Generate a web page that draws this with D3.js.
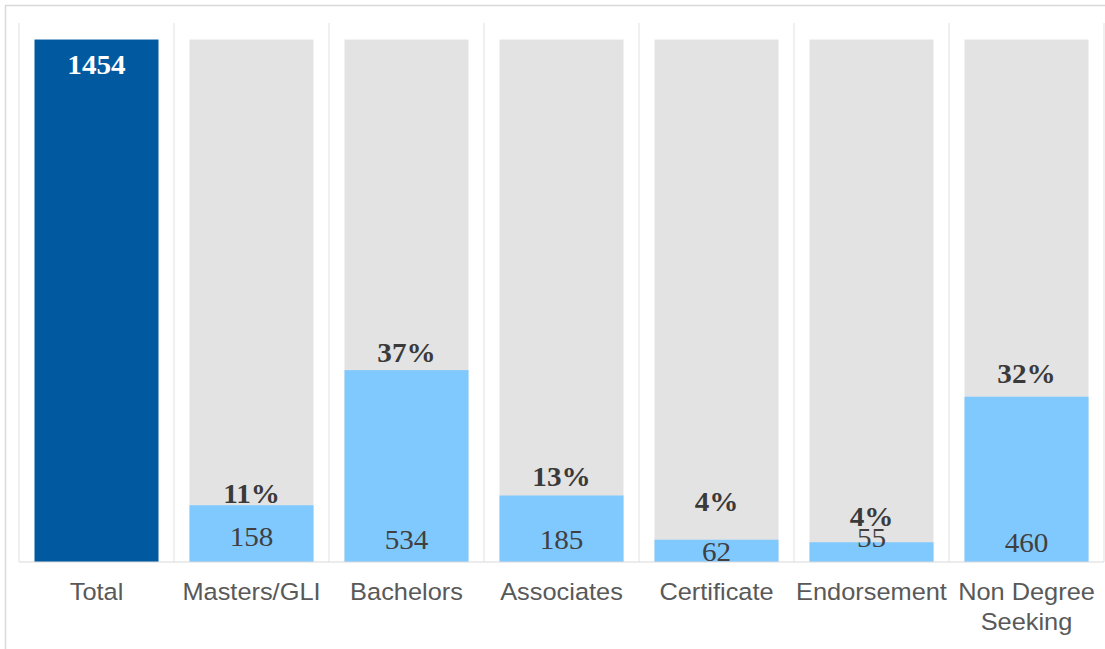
<!DOCTYPE html>
<html>
<head>
<meta charset="utf-8">
<script src="https://cdn.jsdelivr.net/npm/d3@7"></script>
<style>
  html, body { margin: 0; padding: 0; background: #ffffff; }
  svg { display: block; }
</style>
</head>
<body>
<svg id="chart" width="1105" height="649"></svg>
<script>
// ---- data ----
const categories = ["Total", "Masters/GLI", "Bachelors", "Associates", "Certificate", "Endorsement", "Non Degree Seeking"];
const totalValue = 1454;
const values = [1454, 158, 534, 185, 62, 55, 460];
const percentLabels = ["", "11%", "37%", "13%", "4%", "4%", "32%"];
const yMax = 1500;

// ---- layout tweaks (label nudges in px, not data) ----
const pctGap = [0, 2, 8, 10, 29, 16, 14];
const valBaselineOffset = [0, 16, 13, 13, 1, 15, 10];
const sx = 1.08; // horizontal stretch of text seen in the reference

const svg = d3.select("#chart");
const W = 1105, H = 649;
const plotLeft = 19, plotRight = 1104, plotTop = 23, plotBase = 562;

// frame
svg.append("path")
  .attr("d", `M5.5,${H + 2} V5.5 H${W + 2}`)
  .attr("fill", "none").attr("stroke", "#d9d9d9").attr("stroke-width", 1.5);

const x = d3.scaleBand().domain(categories).range([plotLeft, plotRight]).paddingInner(0.2).paddingOuter(0.1);
const y = d3.scaleLinear().domain([0, yMax]).range([plotBase, plotTop]);
const step = x.step();
const cx = c => x(c) + x.bandwidth() / 2;

// vertical gridlines at category boundaries
const bounds = categories.map(c => x(c) - step * x.paddingInner() / 2).concat([plotRight]);
svg.append("g").selectAll("line").data(bounds).join("line")
  .attr("x1", d => d).attr("x2", d => d)
  .attr("y1", y(yMax)).attr("y2", plotBase)
  .attr("stroke", "#e6e6e6").attr("stroke-width", 1.2);

// background gray bars
svg.append("g").selectAll("rect").data(categories.slice(1)).join("rect")
  .attr("x", d => x(d)).attr("width", x.bandwidth())
  .attr("y", y(totalValue)).attr("height", plotBase - y(totalValue))
  .attr("fill", "#e3e3e3");

// value bars
svg.append("g").selectAll("rect").data(categories).join("rect")
  .attr("x", d => x(d)).attr("width", x.bandwidth())
  .attr("y", (d, i) => y(values[i])).attr("height", (d, i) => plotBase - y(values[i]))
  .attr("fill", (d, i) => i === 0 ? "#01599f" : "#80c9fe");

// x axis line
svg.append("line").attr("x1", plotLeft).attr("x2", plotRight).attr("y1", plotBase).attr("y2", plotBase)
  .attr("stroke", "#d9d9d9").attr("stroke-width", 1.2);

const serif = "'Liberation Serif', 'Times New Roman', serif";

// total label
svg.append("text")
  .attr("transform", `translate(${cx(categories[0])},${y(values[0]) + 34}) scale(${sx},1)`)
  .attr("text-anchor", "middle")
  .attr("font-family", serif)
  .attr("font-size", 27).attr("font-weight", "bold").attr("fill", "#ffffff")
  .text(values[0]);

// value labels
svg.append("g").selectAll("text").data(categories.slice(1)).join("text")
  .attr("transform", (d, i) => `translate(${cx(d)},${plotBase - valBaselineOffset[i + 1]}) scale(${sx},1)`)
  .attr("text-anchor", "middle")
  .attr("font-family", serif)
  .attr("font-size", 27).attr("fill", "#404040")
  .text((d, i) => values[i + 1]);

// percent labels
svg.append("g").selectAll("text").data(categories.slice(1)).join("text")
  .attr("transform", (d, i) => `translate(${cx(d)},${y(values[i + 1]) - pctGap[i + 1]}) scale(${sx},1)`)
  .attr("text-anchor", "middle")
  .attr("font-family", serif)
  .attr("font-size", 27).attr("font-weight", "bold").attr("fill", "#3a3a3a")
  .text((d, i) => percentLabels[i + 1]);

// category axis labels
const axisG = svg.append("g")
  .attr("font-family", "'Liberation Sans', Arial, sans-serif")
  .attr("font-size", 23.5).attr("fill", "#595959");
categories.forEach(c => {
  const words = c === "Non Degree Seeking" ? ["Non Degree", "Seeking"] : [c];
  const t = axisG.append("text")
    .attr("transform", `translate(${cx(c)},600) scale(${sx},1)`)
    .attr("text-anchor", "middle");
  words.forEach((w, i) => {
    t.append("tspan").attr("x", 0).attr("dy", i === 0 ? 0 : 30).text(w);
  });
});
</script>
</body>
</html>
